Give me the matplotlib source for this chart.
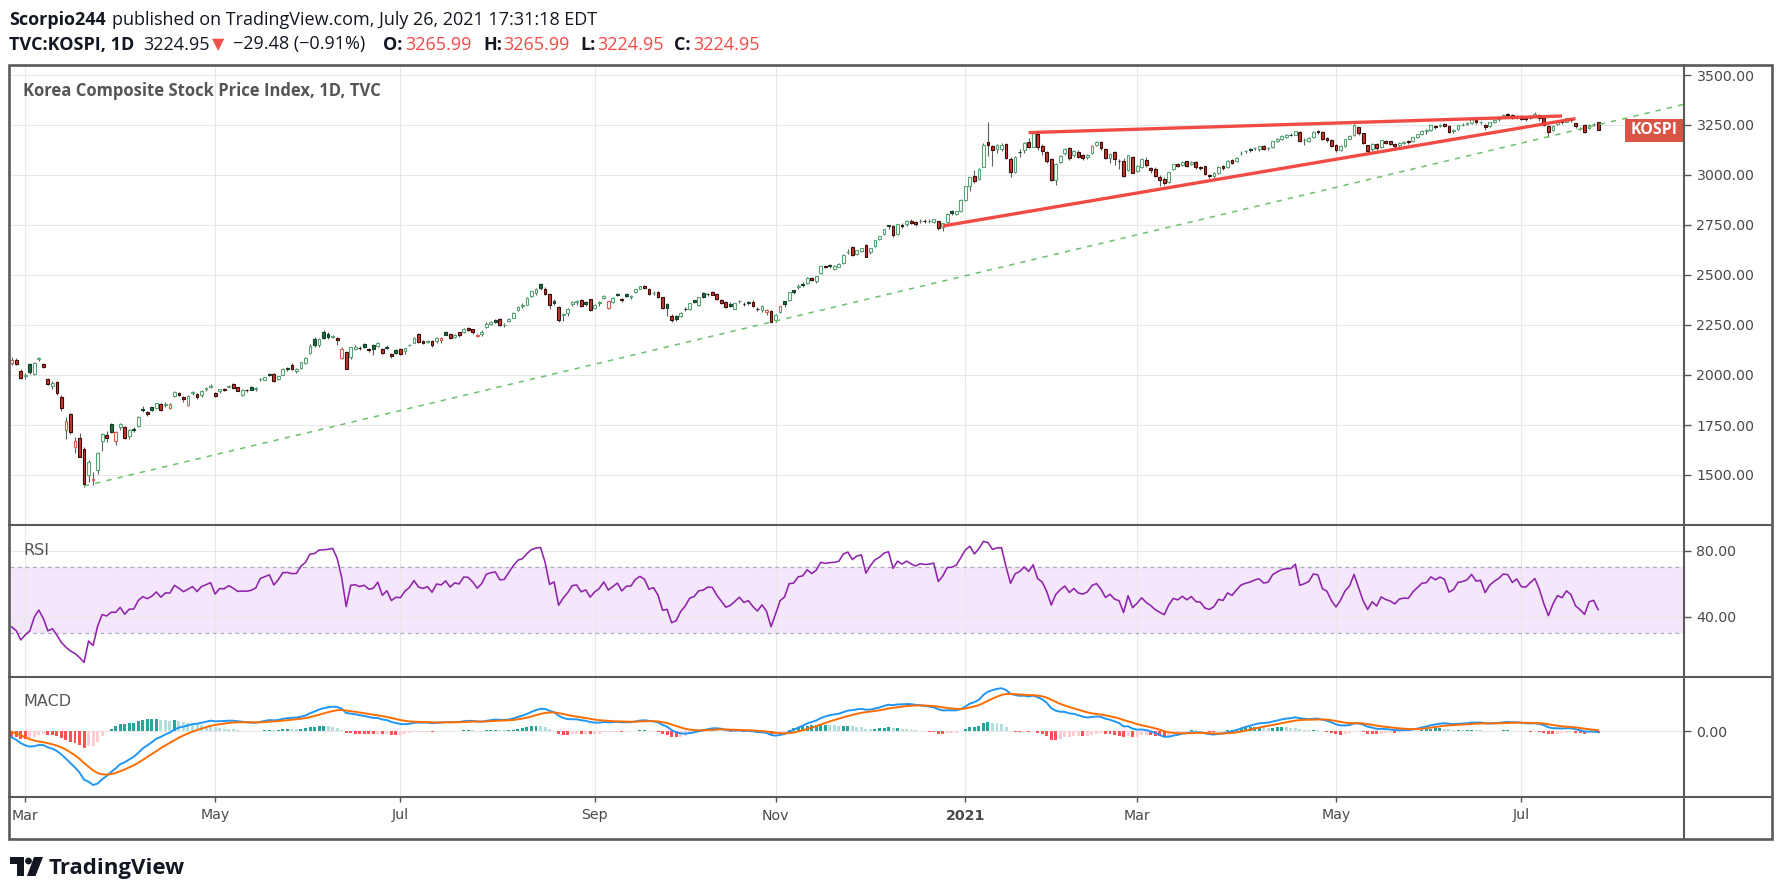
import numpy as np
import matplotlib
matplotlib.use("Agg")
import matplotlib.pyplot as plt
from matplotlib.patches import Rectangle, Circle, Polygon
from matplotlib.lines import Line2D
from matplotlib.transforms import blended_transform_factory

# ---------------- DATA ----------------
# closes before the visible window (indicator warm-up), Dec 2019 - Feb 25 2020
prior_closes = [2091, 2068, 2068, 2061, 2081, 2098, 2098, 2105, 2137, 2170,
                2168, 2195, 2195, 2196, 2204, 2203, 2190, 2197, 2204, 2198,
                2175, 2176, 2155, 2175, 2151, 2186, 2206, 2229, 2238, 2230,
                2248, 2250, 2262, 2239, 2267, 2246, 2177, 2185, 2148, 2119,
                2118, 2157, 2165, 2227, 2212, 2201, 2223, 2238, 2232, 2243,
                2242, 2208, 2210, 2195, 2162, 2079, 2103]

# daily candles (open, high, low, close) per month
feb_2020 = [(2060, 2090, 2050, 2076), (2075, 2083, 2050, 2054), (2022, 2030, 1980, 1987)]
mar_2020 = [(1997, 2010, 1980, 2002), (2057, 2060, 2005, 2014), (2005, 2065, 2000, 2059),
            (2080, 2090, 2070, 2085), (2055, 2058, 2035, 2040), (1980, 1985, 1948, 1954),
            (1943, 1970, 1930, 1962), (1967, 1970, 1900, 1908), (1892, 1898, 1820, 1834),
            (1723, 1790, 1680, 1771), (1805, 1810, 1705, 1714), (1640, 1690, 1610, 1672),
            (1687, 1710, 1590, 1591), (1630, 1640, 1439, 1457), (1500, 1575, 1466, 1566),
            (1473, 1515, 1450, 1482), (1523, 1615, 1505, 1609), (1668, 1710, 1620, 1704),
            (1700, 1720, 1665, 1686), (1755, 1760, 1708, 1717), (1668, 1720, 1650, 1715),
            (1740, 1760, 1725, 1754)]
apr_2020 = [(1740, 1745, 1680, 1685), (1693, 1730, 1680, 1724), (1732, 1740, 1715, 1725),
            (1743, 1795, 1740, 1791), (1830, 1845, 1815, 1823), (1815, 1820, 1795, 1807),
            (1838, 1840, 1822, 1826), (1835, 1862, 1830, 1860), (1855, 1858, 1820, 1825),
            (1848, 1865, 1840, 1857), (1837, 1862, 1830, 1856), (1893, 1918, 1890, 1914),
            (1910, 1915, 1895, 1898), (1892, 1895, 1865, 1879), (1850, 1898, 1845, 1896),
            (1910, 1920, 1900, 1914), (1905, 1908, 1882, 1889), (1898, 1925, 1890, 1922),
            (1930, 1938, 1922, 1934), (1938, 1955, 1935, 1947)]
may_2020 = [(1910, 1915, 1890, 1895), (1918, 1932, 1910, 1928), (1928, 1935, 1920, 1927),
            (1942, 1950, 1938, 1945), (1955, 1960, 1930, 1935), (1940, 1942, 1920, 1922),
            (1900, 1928, 1895, 1924), (1925, 1930, 1915, 1923), (1938, 1945, 1925, 1927),
            (1928, 1940, 1920, 1937), (1978, 1985, 1972, 1980), (1977, 1992, 1975, 1989),
            (2007, 2010, 1995, 1998), (2007, 2008, 1965, 1970), (1980, 1997, 1975, 1994),
            (2000, 2033, 1998, 2030), (2035, 2040, 2020, 2031), (2052, 2058, 2025, 2028),
            (2018, 2035, 2010, 2029)]
jun_2020 = [(2037, 2067, 2030, 2065), (2060, 2090, 2055, 2087), (2108, 2155, 2105, 2147),
            (2182, 2190, 2140, 2151), (2148, 2185, 2140, 2181), (2217, 2225, 2180, 2184),
            (2207, 2215, 2180, 2188), (2192, 2200, 2185, 2195), (2185, 2190, 2150, 2176),
            (2085, 2140, 2080, 2132), (2115, 2118, 2028, 2030), (2088, 2140, 2080, 2138),
            (2132, 2150, 2125, 2141), (2137, 2145, 2125, 2134), (2155, 2160, 2135, 2141),
            (2132, 2135, 2115, 2126), (2150, 2155, 2100, 2131), (2145, 2165, 2140, 2161),
            (2132, 2135, 2105, 2112), (2142, 2150, 2130, 2134), (2107, 2110, 2085, 2093),
            (2125, 2130, 2105, 2108)]
jul_2020 = [(2130, 2135, 2100, 2106), (2118, 2136, 2105, 2135), (2150, 2155, 2145, 2152),
            (2160, 2190, 2158, 2187), (2207, 2210, 2160, 2165), (2172, 2175, 2155, 2160),
            (2165, 2175, 2160, 2168), (2172, 2175, 2140, 2150), (2168, 2190, 2160, 2186),
            (2173, 2188, 2160, 2183), (2213, 2220, 2200, 2201), (2207, 2210, 2180, 2183),
            (2190, 2205, 2185, 2201), (2213, 2215, 2190, 2198), (2217, 2235, 2210, 2228),
            (2233, 2240, 2220, 2227), (2230, 2232, 2205, 2216), (2195, 2205, 2190, 2200),
            (2203, 2225, 2195, 2217), (2238, 2265, 2235, 2256), (2257, 2272, 2250, 2263),
            (2277, 2280, 2262, 2267), (2282, 2285, 2245, 2249)]
aug_2020 = [(2250, 2258, 2240, 2251), (2270, 2285, 2265, 2279), (2287, 2315, 2285, 2311),
            (2323, 2345, 2318, 2342), (2347, 2360, 2335, 2351), (2352, 2390, 2350, 2386),
            (2393, 2420, 2390, 2418), (2412, 2435, 2400, 2432), (2457, 2459, 2425, 2437),
            (2432, 2440, 2400, 2407), (2407, 2410, 2330, 2348), (2372, 2380, 2350, 2360),
            (2340, 2345, 2265, 2274), (2300, 2310, 2270, 2304), (2308, 2333, 2295, 2329),
            (2353, 2370, 2345, 2366), (2367, 2375, 2350, 2369), (2375, 2380, 2340, 2344),
            (2367, 2370, 2345, 2353), (2380, 2382, 2320, 2326)]
sep_2020 = [(2337, 2355, 2330, 2349), (2360, 2370, 2345, 2364), (2383, 2400, 2378, 2396),
            (2333, 2372, 2330, 2368), (2367, 2390, 2360, 2384), (2407, 2410, 2395, 2401),
            (2378, 2385, 2365, 2375), (2405, 2410, 2390, 2396), (2388, 2402, 2380, 2397),
            (2417, 2432, 2410, 2428), (2432, 2447, 2428, 2443), (2447, 2450, 2430, 2435),
            (2432, 2435, 2400, 2406), (2410, 2420, 2400, 2412), (2415, 2420, 2385, 2389),
            (2390, 2392, 2330, 2333), (2355, 2358, 2293, 2336), (2297, 2305, 2265, 2273),
            (2297, 2300, 2270, 2279), (2297, 2315, 2290, 2309), (2330, 2338, 2320, 2328)]
oct_2020 = [(2330, 2362, 2325, 2358), (2373, 2375, 2360, 2365), (2348, 2392, 2345, 2388),
            (2412, 2415, 2385, 2391), (2405, 2410, 2395, 2403), (2417, 2420, 2400, 2402),
            (2407, 2410, 2375, 2380), (2375, 2378, 2355, 2361), (2367, 2370, 2335, 2341),
            (2357, 2365, 2340, 2346), (2332, 2362, 2328, 2358), (2368, 2375, 2360, 2370),
            (2357, 2365, 2345, 2355), (2367, 2372, 2350, 2360), (2365, 2375, 2340, 2343),
            (2331, 2340, 2320, 2330), (2323, 2350, 2315, 2345), (2313, 2330, 2300, 2326),
            (2320, 2323, 2265, 2267)]
nov_2020 = [(2273, 2305, 2265, 2300), (2315, 2347, 2310, 2343), (2368, 2370, 2340, 2357),
            (2373, 2417, 2370, 2413), (2423, 2425, 2405, 2416), (2438, 2453, 2430, 2447),
            (2457, 2465, 2440, 2452), (2460, 2488, 2455, 2485), (2487, 2490, 2470, 2475),
            (2468, 2497, 2460, 2493), (2510, 2545, 2505, 2543), (2547, 2550, 2535, 2540),
            (2552, 2555, 2535, 2545), (2532, 2550, 2525, 2547), (2542, 2558, 2540, 2553),
            (2558, 2605, 2555, 2602), (2615, 2630, 2605, 2617), (2640, 2643, 2595, 2601),
            (2603, 2627, 2600, 2625), (2622, 2637, 2615, 2633), (2650, 2655, 2590, 2591)]
dec_2020 = [(2613, 2637, 2605, 2634), (2643, 2677, 2640, 2675), (2682, 2697, 2675, 2696),
            (2703, 2732, 2700, 2731), (2748, 2752, 2730, 2745), (2747, 2750, 2690, 2700),
            (2705, 2757, 2700, 2755), (2752, 2760, 2735, 2746), (2755, 2775, 2745, 2770),
            (2772, 2780, 2755, 2762), (2767, 2770, 2745, 2756), (2770, 2778, 2760, 2772),
            (2772, 2778, 2760, 2770), (2770, 2780, 2762, 2772), (2767, 2782, 2760, 2778),
            (2770, 2772, 2725, 2733), (2740, 2762, 2720, 2759), (2763, 2810, 2760, 2806),
            (2820, 2825, 2800, 2808), (2807, 2822, 2800, 2820), (2818, 2878, 2815, 2873)]
jan_2021 = [(2874, 2946, 2870, 2944), (2943, 2992, 2920, 2990), (2995, 3027, 2962, 2968),
            (2980, 3037, 2975, 3031), (3040, 3161, 3040, 3152), (3163, 3266, 3096, 3148),
            (3147, 3150, 3047, 3125), (3128, 3155, 3110, 3148), (3130, 3160, 3120, 3150),
            (3155, 3160, 3080, 3085), (3082, 3090, 2988, 3013), (3013, 3095, 3010, 3092),
            (3117, 3130, 3090, 3114), (3123, 3165, 3110, 3160), (3167, 3185, 3135, 3140),
            (3142, 3210, 3140, 3208), (3207, 3218, 3125, 3140), (3145, 3155, 3100, 3122),
            (3117, 3120, 3060, 3069), (3082, 3085, 2970, 2976)]
feb_2021 = [(2975, 3060, 2950, 3056), (3063, 3100, 3060, 3097), (3108, 3135, 3100, 3129),
            (3135, 3138, 3075, 3087), (3100, 3125, 3090, 3120), (3117, 3125, 3085, 3091),
            (3100, 3105, 3075, 3084), (3088, 3105, 3080, 3100), (3110, 3150, 3105, 3147),
            (3148, 3170, 3145, 3163), (3167, 3170, 3125, 3133), (3130, 3135, 3080, 3086),
            (3087, 3112, 3060, 3107), (3117, 3120, 3050, 3079), (3072, 3080, 3030, 3070),
            (3072, 3085, 2990, 2995), (3025, 3100, 3020, 3099), (3090, 3095, 3010, 3012)]
mar_2021 = [(3022, 3050, 3015, 3043), (3040, 3085, 3035, 3082), (3073, 3090, 3040, 3049),
            (3035, 3040, 3010, 3026), (3032, 3040, 2990, 2996), (2990, 3000, 2945, 2976),
            (2980, 2990, 2950, 2958), (2963, 3015, 2960, 3013), (3028, 3057, 3025, 3054),
            (3057, 3060, 3040, 3045), (3050, 3070, 3045, 3067), (3068, 3070, 3040, 3047),
            (3053, 3070, 3050, 3066), (3067, 3070, 3030, 3039), (3042, 3045, 3025, 3035),
            (3043, 3045, 3000, 3004), (3000, 3005, 2985, 2996), (2993, 3015, 2985, 3008),
            (3010, 3043, 3005, 3041), (3047, 3050, 3025, 3036), (3040, 3075, 3035, 3071),
            (3077, 3080, 3055, 3061)]
apr_2021 = [(3072, 3090, 3065, 3087), (3110, 3118, 3100, 3112), (3118, 3125, 3110, 3121),
            (3130, 3135, 3115, 3127), (3135, 3140, 3125, 3137), (3128, 3145, 3120, 3143),
            (3147, 3150, 3125, 3131), (3135, 3140, 3125, 3135), (3138, 3172, 3135, 3169),
            (3168, 3185, 3165, 3182), (3180, 3200, 3175, 3194), (3190, 3205, 3185, 3198),
            (3200, 3210, 3195, 3199), (3200, 3222, 3198, 3220), (3215, 3218, 3165, 3171),
            (3175, 3185, 3150, 3177), (3168, 3190, 3165, 3186), (3188, 3218, 3185, 3217),
            (3222, 3225, 3205, 3215), (3215, 3218, 3175, 3181), (3185, 3190, 3165, 3174),
            (3177, 3180, 3140, 3147)]
may_2021 = [(3152, 3155, 3115, 3127), (3127, 3150, 3120, 3147), (3143, 3180, 3140, 3178),
            (3182, 3200, 3178, 3197), (3198, 3255, 3195, 3249), (3240, 3242, 3200, 3209),
            (3210, 3212, 3155, 3161), (3150, 3152, 3105, 3122), (3128, 3160, 3120, 3153),
            (3155, 3158, 3125, 3134), (3138, 3175, 3135, 3173), (3170, 3175, 3155, 3162),
            (3168, 3172, 3150, 3156), (3155, 3158, 3130, 3144), (3148, 3165, 3140, 3162),
            (3158, 3170, 3155, 3166), (3170, 3175, 3155, 3165), (3170, 3190, 3165, 3188),
            (3190, 3205, 3185, 3204)]
jun_2021 = [(3205, 3225, 3200, 3222), (3218, 3228, 3205, 3224), (3225, 3250, 3220, 3248),
            (3245, 3250, 3230, 3241), (3245, 3255, 3240, 3252), (3255, 3258, 3240, 3247),
            (3245, 3248, 3210, 3216), (3218, 3230, 3210, 3224), (3230, 3250, 3225, 3249),
            (3250, 3260, 3245, 3252), (3255, 3265, 3250, 3258), (3260, 3280, 3255, 3278),
            (3275, 3280, 3255, 3264), (3265, 3272, 3255, 3267), (3250, 3255, 3225, 3240),
            (3245, 3265, 3240, 3263), (3265, 3280, 3260, 3276), (3278, 3290, 3270, 3286),
            (3290, 3305, 3285, 3302), (3305, 3310, 3295, 3301), (3300, 3305, 3280, 3286),
            (3290, 3300, 3280, 3297)]
jul_2021 = [(3295, 3300, 3275, 3282), (3285, 3290, 3270, 3281), (3285, 3295, 3280, 3293),
            (3297, 3316, 3290, 3305), (3300, 3305, 3270, 3285), (3285, 3288, 3245, 3252),
            (3247, 3250, 3188, 3217), (3223, 3250, 3220, 3246), (3253, 3272, 3250, 3271),
            (3272, 3275, 3255, 3265), (3267, 3287, 3265, 3286), (3280, 3283, 3265, 3276),
            (3260, 3262, 3235, 3244), (3232, 3240, 3225, 3232), (3252, 3255, 3210, 3216),
            (3235, 3255, 3230, 3250), (3253, 3260, 3245, 3254.43),
            (3265.99, 3265.99, 3224.95, 3224.95)]

months = [feb_2020, mar_2020, apr_2020, may_2020, jun_2020, jul_2020, aug_2020, sep_2020,
          oct_2020, nov_2020, dec_2020, jan_2021, feb_2021, mar_2021, apr_2021, may_2021,
          jun_2021, jul_2021]
month_labels = [None, "Mar", None, "May", None, "Jul", None, "Sep", None, "Nov", None,
                "2021", None, "Mar", None, "May", None, "Jul"]

price_ticks = [1500, 1750, 2000, 2250, 2500, 2750, 3000, 3250, 3500]
rsi_ticks = [80, 40]
symbol = "KOSPI"

# drawn trend lines: anchors (bar index, price)
green_trend = [(16, 1445), (356, 3278)]
red_upper = [(225, 3212), (343, 3295)]
red_lower = [(206, 2745), (346, 3282)]

# ---------------- PREP ----------------
candles = [c for m in months for c in m]
o = np.array([c[0] for c in candles], float)
h = np.array([c[1] for c in candles], float)
l = np.array([c[2] for c in candles], float)
c = np.array([c[3] for c in candles], float)
n = len(c)
x = np.arange(n)
starts = np.cumsum([0] + [len(m) for m in months[:-1]])
tick_pos = [s for s, lab in zip(starts, month_labels) if lab]
tick_lab = [lab for lab in month_labels if lab]

allc = np.array(list(prior_closes) + list(c), float)


def rma(v, p):
    out = np.full(len(v), np.nan)
    out[p - 1] = v[:p].mean()
    a = 1.0 / p
    for i in range(p, len(v)):
        out[i] = a * v[i] + (1 - a) * out[i - 1]
    return out


def ema(v, p):
    out = np.full(len(v), np.nan)
    s = np.where(~np.isnan(v))[0][0]
    out[s + p - 1] = v[s:s + p].mean()
    a = 2.0 / (p + 1)
    for i in range(s + p, len(v)):
        out[i] = a * v[i] + (1 - a) * out[i - 1]
    return out


chg = np.diff(allc)
up = np.maximum(chg, 0)
dn = np.maximum(-chg, 0)
rsi_full = np.concatenate([[np.nan], 100 - 100 / (1 + rma(up, 14) / rma(dn, 14))])
macd_full = ema(allc, 12) - ema(allc, 26)
sig_full = ema(macd_full, 9)
hist_full = macd_full - sig_full

rsi = rsi_full[-n:]
macd = macd_full[-n:]
sig = sig_full[-n:]
hist = hist_full[-n:]
hist_prev = hist_full[-n - 1:-1]

# ---------------- FIGURE ----------------
W, H = 1783, 894
fig = plt.figure(figsize=(W / 100, H / 100), dpi=100)
fig.patch.set_facecolor("white")


def fr(x0, y0, x1, y1):
    return [x0 / W, 1 - y1 / H, (x1 - x0) / W, (y1 - y0) / H]


LX, RX = 10, 1684
ax_p = fig.add_axes(fr(LX, 65, RX, 524))
ax_r = fig.add_axes(fr(LX, 525, RX, 676))
ax_m = fig.add_axes(fr(LX, 677, RX, 796))

XL = (-0.38, 370.0)
grid_c = "#e8e8e8"
txt_c = "#4a4a4a"
for ax in (ax_p, ax_r, ax_m):
    ax.set_xlim(*XL)
    for s in ax.spines.values():
        s.set_visible(False)
    ax.yaxis.tick_right()
    ax.set_xticks(tick_pos)
    ax.grid(True, color=grid_c, lw=0.8, zorder=0)
    ax.set_axisbelow(True)
    ax.tick_params(axis="y", direction="out", length=5, width=1, color="#555555",
                   labelsize=10.2, labelcolor=txt_c, pad=4)
    ax.tick_params(axis="x", length=0, labelbottom=False)

# ---- price panel ----
ax_p.set_ylim(1255, 3550)
ax_p.set_yticks(price_ticks)
ax_p.set_yticklabels([f"{v:.2f}" for v in price_ticks])

prev_c = np.concatenate([[prior_closes[-1]], c[:-1]])
is_up = c >= prev_c
filled = c < o
face = np.where(filled, np.where(is_up, "#1d6a42", "#c9352b"), "white")
edge = np.where(is_up, np.where(filled, "#123f27", "#58a476"),
                np.where(filled, "#3b0d09", "#e4574c"))
ax_p.vlines(x, l, h, colors="#5f5f5f", lw=0.8, zorder=2)
ax_p.bar(x, np.abs(c - o), bottom=np.minimum(o, c), width=0.62, color=list(face),
         edgecolor=list(edge), linewidth=0.8, zorder=3)


def ray(anchors, x_end=None):
    (x0, p0), (x1, p1) = anchors
    if x_end is None:
        return [x0, x1], [p0, p1]
    k = (p1 - p0) / (x1 - x0)
    return [x0, x_end], [p0, p0 + k * (x_end - x0)]


gx, gy = ray(green_trend, XL[1] + 2)
ax_p.plot(gx, gy, color="#6cc070", lw=1.1, ls=(0, (3.5, 4)), zorder=4)
for tr in (red_upper, red_lower):
    rx, ry = ray(tr)
    ax_p.plot(rx, ry, color="#f1413b", lw=2.4, solid_capstyle="butt", zorder=5, alpha=0.95)

ax_p.text(13 / 1674, 1 - 31 / 459, "Korea Composite Stock Price Index, 1D, TVC",
          transform=ax_p.transAxes, ha="left", va="baseline", fontsize=12,
          fontweight="bold", color="#555555", family=["Open Sans", "DejaVu Sans"])

# last price label
bt = blended_transform_factory(ax_p.transAxes, ax_p.transData)
last = c[-1]
half = 57.5
ax_p.add_patch(Rectangle(((1625 - LX) / (RX - LX), last - half), (RX - 1625) / (RX - LX), 2 * half,
                         transform=bt, facecolor="#da5346", edgecolor="none", zorder=8, clip_on=False))
ax_p.text(((1625 + RX) / 2 - LX) / (RX - LX), last, symbol, transform=bt, ha="center", va="center",
          color="white", fontsize=11.5, fontweight="bold", zorder=9,
          family=["Open Sans", "DejaVu Sans"])

# ---- RSI panel ----
ax_r.set_ylim(3.9, 95.8)
ax_r.set_yticks(rsi_ticks)
ax_r.set_yticklabels([f"{v:.2f}" for v in rsi_ticks])
ax_r.axhspan(30, 70, color="#f4e6fb", zorder=0.5, lw=0)
for lev in (70, 30):
    ax_r.axhline(lev, color="#b3a7bb", lw=0.9, ls=(0, (3, 3)), zorder=1)
ax_r.plot(x, rsi, color="#8e24aa", lw=1.15, zorder=3)
ax_r.text(13 / 1674, 80, "RSI", transform=blended_transform_factory(ax_r.transAxes, ax_r.transData),
          ha="left", va="center", fontsize=11.5, color="#555555")

# ---- MACD panel ----
vis_min = np.nanmin(np.concatenate([macd, sig, hist]))
lo = vis_min / 0.8308
hi = -0.8315 * lo
ax_m.set_ylim(lo, hi)
ax_m.set_yticks([0])
ax_m.set_yticklabels(["0.00"])
hcol = np.where(hist >= 0, np.where(hist > hist_prev, "#26a69a", "#b2dfdb"),
                np.where(hist > hist_prev, "#ffcdd2", "#ff5252"))
ax_m.bar(x, hist, width=0.66, color=list(hcol), linewidth=0, zorder=2)
ax_m.plot(x, macd, color="#2196f3", lw=1.4, zorder=3)
ax_m.plot(x, sig, color="#ff6d00", lw=1.4, zorder=4)
ax_m.text(13 / 1674, 1 - 25 / 119, "MACD", transform=ax_m.transAxes, ha="left", va="center",
          fontsize=11.5, color="#555555")
ax_m.tick_params(axis="x", length=4.5, width=1, color="#555555", direction="out",
                 labelbottom=True, labelsize=10.2, labelcolor=txt_c, pad=4.5)
ax_m.set_xticklabels(tick_lab)
for t in ax_m.get_xticklabels():
    if t.get_text() == "2021":
        t.set_fontweight("bold")

# ---------------- OVERLAY (frame, header, logo) ----------------
ov = fig.add_axes([0, 0, 1, 1])
ov.set_zorder(10)
ov.patch.set_visible(False)
ov.set_xlim(0, W)
ov.set_ylim(H, 0)
ov.axis("off")
fc = "#5a5a5a"
ov.add_patch(Rectangle((9, 65), 1763.5, 774, fill=False, ec=fc, lw=1.9))
for yy in (524.5, 676.5, 796.5):
    ov.add_line(Line2D([9, 1772.5], [yy, yy], color=fc, lw=1.5))
ov.add_line(Line2D([1684.5, 1684.5], [65, 839], color=fc, lw=1.5))

F = ["Open Sans", "DejaVu Sans"]
dark = "#131722"
red = "#f04b48"
fs = 13
ov.text(9.3, 25, "Scorpio244", fontsize=fs, fontweight="bold", color=dark, family=F, va="baseline")
ov.text(112, 25, "published on TradingView.com, July 26, 2021 17:31:18 EDT", fontsize=fs,
        color=dark, family=F, va="baseline")
by = 49.5
segs = [(9.3, "TVC:KOSPI, 1D", "bold", dark), (143, "3224.95", "normal", dark),
        (233, "\u221229.48 (\u22120.91%)", "normal", dark),
        (383, "O:", "bold", dark), (405, "3265.99", "normal", red),
        (483, "H:", "bold", dark), (503, "3265.99", "normal", red),
        (580, "L:", "bold", dark), (597, "3224.95", "normal", red),
        (674, "C:", "bold", dark), (693, "3224.95", "normal", red)]
for xx, s, wgt, col in segs:
    ov.text(xx, by, s, fontsize=fs, fontweight=wgt, color=col, family=F, va="baseline")
ov.text(212, by, "\u25bc", fontsize=11.5, color="#f0514c", family=["DejaVu Sans"], va="baseline")

# TradingView logo
ov.add_patch(Polygon([(10, 857), (24, 857), (24, 876), (17.5, 876), (17.5, 863.5), (10, 863.5)],
                     closed=True, fc=dark, ec="none"))
ov.add_patch(Circle((28.5, 861), 3.4, fc=dark, ec="none"))
ov.add_patch(Polygon([(34, 857), (43, 857), (35.5, 876), (27, 876)], closed=True, fc=dark, ec="none"))
ov.text(49, 874, "TradingView", fontsize=16, fontweight="bold", color=dark, family=F, va="baseline")

fig.savefig("out.png", dpi=100, facecolor="white")
